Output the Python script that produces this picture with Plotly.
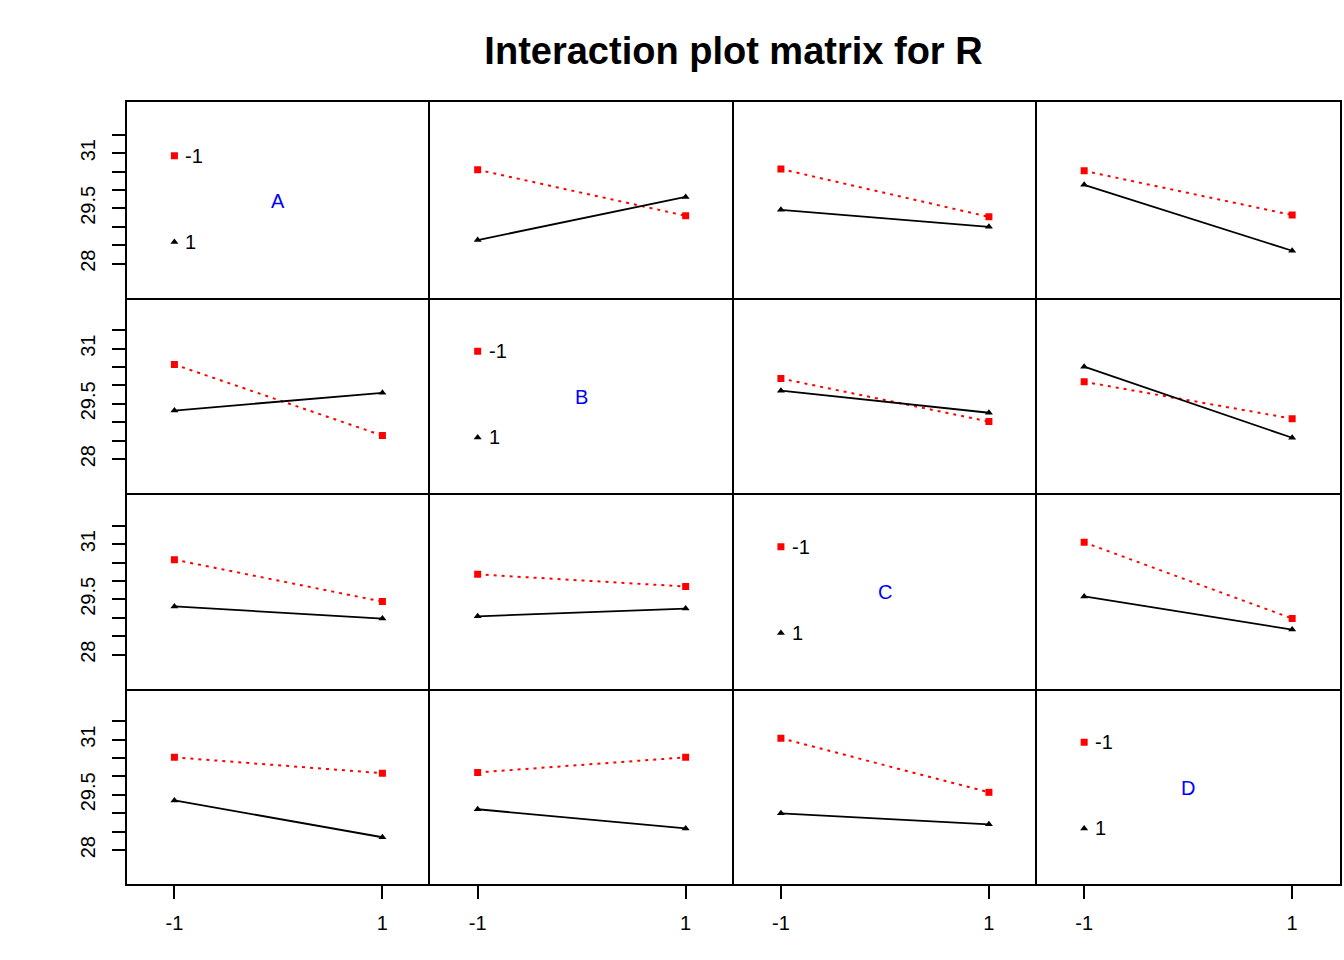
import plotly.graph_objects as go
from plotly.subplots import make_subplots

# ----------------------------
# Data
# ----------------------------
factors = ["A", "B", "C", "D"]
levels = [-1, 1]

# red = row factor at -1, black = row factor at 1; pairs are y at x=-1 and x=1
red_y = [
    [None, [30.55, 29.30], [30.57, 29.27], [30.52, 29.32]],
    [[30.57, 28.64], None, [30.19, 29.02], [30.10, 29.10]],
    [[30.58, 29.44], [30.18, 29.85], None, [31.05, 28.98]],
    [[30.52, 30.09], [30.11, 30.52], [31.04, 29.57], None],
]
black_y = [
    [None, [28.64, 29.81], [29.46, 29.00], [30.14, 28.35]],
    [[29.32, 29.80], None, [29.86, 29.26], [30.51, 28.58]],
    [[29.31, 28.98], [29.04, 29.25], None, [29.58, 28.68]],
    [[29.35, 28.35], [29.11, 28.59], [29.00, 28.70], None],
]

# legend placement in the diagonal panels
legend_y = [30.93, 28.59]
legend_labels = ["-1", "1"]
factor_label_y = 29.70

ytick_vals = [28, 28.5, 29, 29.5, 30, 30.5, 31, 31.5]
ytick_text = ["28", "", "", "29.5", "", "", "31", ""]

FONT = "Liberation Sans, Arial, sans-serif"

fig = make_subplots(rows=4, cols=4, horizontal_spacing=0, vertical_spacing=0)

for i in range(4):
    for j in range(4):
        r, c = i + 1, j + 1
        if i == j:
            fig.add_trace(go.Scatter(
                x=[levels[0]], y=[legend_y[0]], mode="markers",
                marker=dict(symbol="square", size=7, color="red"),
                hoverinfo="skip"), row=r, col=c)
            fig.add_trace(go.Scatter(
                x=[levels[0]], y=[legend_y[1]], mode="markers",
                marker=dict(symbol="triangle-up", size=7, color="black"),
                hoverinfo="skip"), row=r, col=c)
            for yy, lab in zip(legend_y, legend_labels):
                fig.add_annotation(x=levels[0], y=yy, text=lab, showarrow=False,
                                   xanchor="left", xshift=9,
                                   font=dict(family=FONT, size=20, color="black"),
                                   row=r, col=c)
            fig.add_annotation(x=0, y=factor_label_y, text=factors[i], showarrow=False,
                               font=dict(family=FONT, size=20, color="blue"),
                               row=r, col=c)
        else:
            fig.add_trace(go.Scatter(
                x=levels, y=red_y[i][j], mode="lines+markers",
                line=dict(color="red", width=2, dash="3px,5px"),
                marker=dict(symbol="square", size=7, color="red")), row=r, col=c)
            fig.add_trace(go.Scatter(
                x=levels, y=black_y[i][j], mode="lines+markers",
                line=dict(color="black", width=1.8),
                marker=dict(symbol="triangle-up", size=7, color="black")), row=r, col=c)

        # each border drawn once: bottom/left on every panel, top/right on the outer ones
        fig.update_xaxes(range=[-1.456, 1.46], showline=True, mirror=(r == 1),
                         linecolor="black", linewidth=2, showgrid=False, zeroline=False,
                         row=r, col=c)
        fig.update_yaxes(range=[27.08, 32.39], showline=True, mirror=(c == 4),
                         linecolor="black", linewidth=2, showgrid=False, zeroline=False,
                         row=r, col=c)
        if r == 4:
            fig.update_xaxes(tickvals=levels, ticktext=["-1", "1"], ticks="outside",
                             ticklen=13, tickwidth=2, tickcolor="black",
                             ticklabelstandoff=7,
                             tickfont=dict(family=FONT, size=20, color="black"),
                             row=r, col=c)
        else:
            fig.update_xaxes(showticklabels=False, ticks="", row=r, col=c)
        if c == 1:
            fig.update_yaxes(tickvals=ytick_vals, ticktext=ytick_text, ticks="outside",
                             ticklen=13, tickwidth=2, tickcolor="black", tickangle=-90,
                             ticklabelstandoff=9,
                             tickfont=dict(family=FONT, size=20, color="black"),
                             row=r, col=c)
        else:
            fig.update_yaxes(showticklabels=False, ticks="", row=r, col=c)

fig.update_layout(
    width=1344, height=960,
    margin=dict(l=127, r=2, t=102, b=76),
    paper_bgcolor="white", plot_bgcolor="white",
    showlegend=False,
    title=dict(text="<b>Interaction plot matrix for R</b>", x=0.5, xref="paper",
               y=1 - 51 / 960, yref="container", xanchor="center", yanchor="middle",
               font=dict(family=FONT, size=38, color="black")),
)

# drop the page margin so the figure sits at the window's top-left corner
fig.write_html("out.html",
               config={"displayModeBar": False},
               post_script="document.body.style.margin='0';"
                           "document.body.style.overflow='hidden';")
